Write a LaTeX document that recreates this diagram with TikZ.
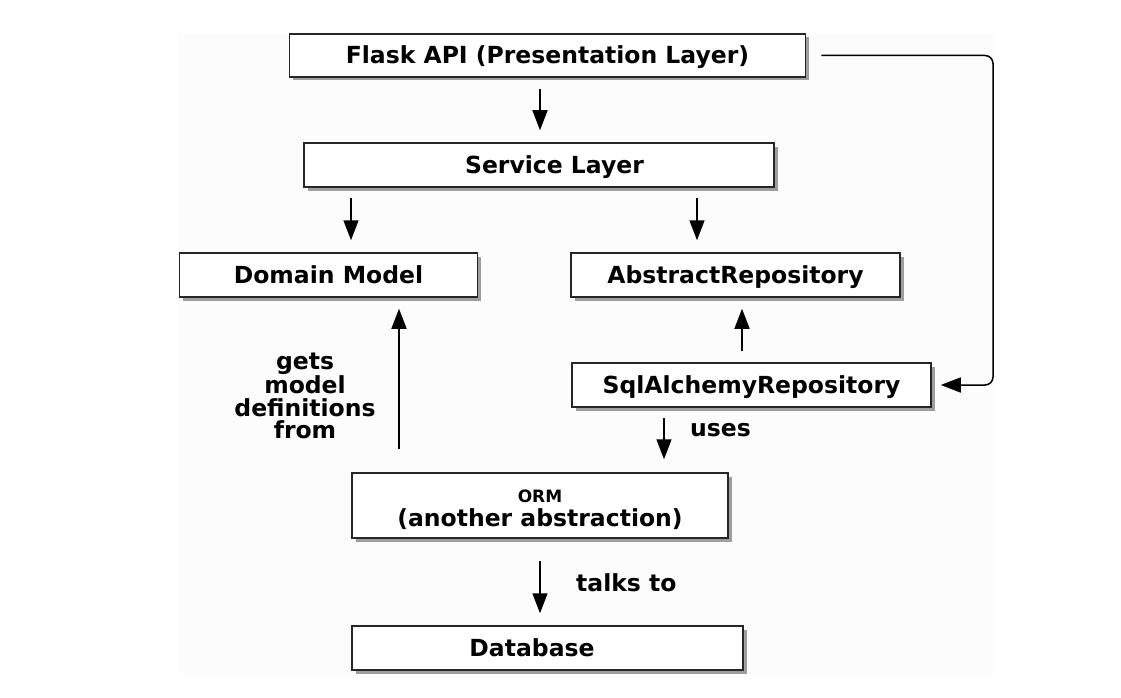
\documentclass[tikz,border=0pt]{standalone}
\usepackage{fontspec}
\setmainfont{DejaVu Sans}
\usetikzlibrary{arrows.meta,shadows,calc}
\begin{document}
\begin{tikzpicture}[x=1pt,y=-1pt,
  boxbase/.style={draw=black!85,line width=1.5pt,fill=white,rectangle,inner sep=0pt,
     drop shadow={shadow xshift=3.5pt,shadow yshift=-3.5pt,fill=black!38,opacity=1}},
  box/.style={boxbase,font=\fontsize{23.5}{23.5}\selectfont\bfseries,text height=17pt,text depth=0pt},
  arr/.style={draw=black,line width=1.6pt,-{Triangle[width=15pt,length=20pt]}},
  lbl/.style={font=\fontsize{23.5}{22.5}\selectfont\bfseries,inner sep=0pt}]
\useasboundingbox (0,0) rectangle (1121,698);
\fill[black!1.2] (178,33) rectangle (994,675);

\node[box,minimum width=516pt,minimum height=43pt] (flask) at (547.5,55.5) {Flask API (Presentation Layer)};
\node[box,minimum width=470pt,minimum height=44pt] (service) at (539,165) {\kern31pt Service Layer};
\node[box,minimum width=298pt,minimum height=44pt] (domain) at (328.5,275) {Domain Model};
\node[box,minimum width=329pt,minimum height=44pt] (abstract) at (735.5,275) {AbstractRepository};
\node[box,minimum width=359pt,minimum height=44pt] (sql) at (751.5,385) {SqlAlchemyRepository};
\node[boxbase,minimum width=376pt,minimum height=65pt,align=center,
      font=\fontsize{23.5}{23.5}\selectfont\bfseries] (orm) at (540,505.5)
      {\rule{0pt}{21pt}{\fontsize{17}{17}\selectfont ORM}\\(another abstraction)};
\node[box,minimum width=391pt,minimum height=44pt] (db) at (547.5,648) {Database\kern31pt};

\node[lbl,align=center] (gets) at (305,396) {gets\\model\\definitions\\from};
\node[lbl,anchor=west] (uses) at (690,430) {uses};
\node[lbl,anchor=west] (talks) at (576,583) {talks to};

\coordinate (c1) at (540,0);
\coordinate (c2) at (351,0);
\coordinate (c3) at (697,0);
\coordinate (c4) at (742,0);
\coordinate (c5) at (399,0);
\coordinate (c6) at (664,0);
\coordinate (c7) at (540,0);
\coordinate (rt) at (993,0);

\draw[arr,shorten <=11pt,shorten >=12pt] (flask.south -| c1) -- (service.north -| c1);
\draw[arr,shorten <=10pt,shorten >=12pt] (service.south -| c2) -- (domain.north -| c2);
\draw[arr,shorten <=10pt,shorten >=12pt] (service.south -| c3) -- (abstract.north -| c3);
\draw[arr,shorten <=11pt,shorten >=11pt] (sql.north -| c4) -- (abstract.south -| c4);
\draw[arr,shorten <=23pt,shorten >=11pt] (orm.north -| c5) -- (domain.south -| c5);
\draw[arr,shorten <=10pt,shorten >=13pt] (sql.south -| c6) -- (orm.north -| c6);
\draw[arr,shorten <=22pt,shorten >=12pt] (orm.south -| c7) -- (db.north -| c7);
\draw[arr,line width=1.5pt,rounded corners=8pt,shorten <=15pt,shorten >=9pt]
  (flask.east) -- (flask.east -| rt) |- (sql.east);
\end{tikzpicture}
\end{document}
